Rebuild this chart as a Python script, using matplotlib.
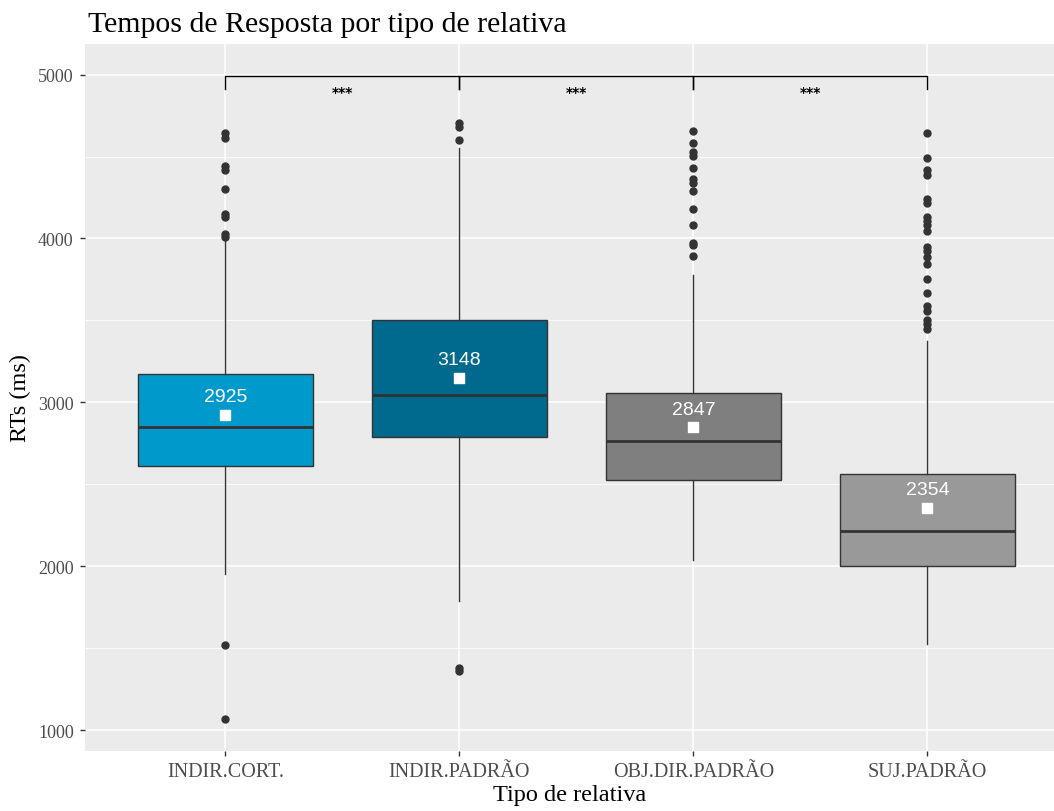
import numpy as np
import matplotlib
matplotlib.use("Agg")
import matplotlib.pyplot as plt
from matplotlib.ticker import MultipleLocator

# resumo dos tempos de resposta por tipo de relativa
tipos = ["INDIR.CORT.", "INDIR.PADRÃO", "OBJ.DIR.PADRÃO", "SUJ.PADRÃO"]
q1 = [2611, 2787, 2528, 2001]
mediana = [2850, 3042, 2762, 2213]
q3 = [3170, 3505, 3054, 2560]
bigode_inf = [1951, 1787, 2039, 1523]
bigode_sup = [3996, 4555, 3777, 3374]
media = [2925, 3148, 2847, 2354]
outliers = [
    [4645, 4612, 4440, 4420, 4301, 4150, 4130, 4030, 4012, 1517, 1065],
    [4705, 4680, 4600, 1380, 1360],
    [4655, 4580, 4530, 4505, 4430, 4365, 4340, 4290, 4180, 4080, 3975, 3960, 3892],
    [4642, 4490, 4415, 4390, 4238, 4215, 4132, 4106, 4080, 4048, 3948, 3922,
     3890, 3846, 3754, 3665, 3590, 3556, 3505, 3480, 3445],
]
cores = ["#0099CC", "#006A8E", "#7F7F7F", "#999999"]

# comparações entre grupos vizinhos
pares = [(1, 2), (2, 3), (3, 4)]
signif = ["***", "***", "***"]
y_chave = 4990
y_ponta = 4915

fig = plt.figure(figsize=(10.54, 8.12), dpi=100)
ax = fig.add_axes([85 / 1054, 1 - 752 / 812, 1 - 85 / 1054, (752 - 45) / 812])
ax.set_facecolor("#EBEBEB")
for s in ax.spines.values():
    s.set_visible(False)

stats = []
for i in range(len(tipos)):
    stats.append(dict(med=mediana[i], q1=q1[i], q3=q3[i],
                      whislo=bigode_inf[i], whishi=bigode_sup[i],
                      fliers=outliers[i], label=tipos[i]))

pos = np.arange(1, len(tipos) + 1)
bp = ax.bxp(stats, positions=pos, widths=0.75, patch_artist=True,
            showcaps=False, zorder=3,
            boxprops=dict(edgecolor="#333333", linewidth=1.0),
            medianprops=dict(color="#333333", linewidth=2.0),
            whiskerprops=dict(color="#333333", linewidth=1.0),
            flierprops=dict(marker="o", markerfacecolor="#333333",
                            markeredgecolor="#333333", markersize=5))
for caixa, cor in zip(bp["boxes"], cores):
    caixa.set_facecolor(cor)

# médias
ax.scatter(pos, media, marker="s", s=55, color="white", zorder=5)
for x, m in zip(pos, media):
    ax.annotate(str(m), (x, m), xytext=(0, 7), textcoords="offset points",
                ha="center", va="bottom", color="white", fontsize=14,
                family="Liberation Sans", zorder=6)

# chaves de significância
for (a, b), txt in zip(pares, signif):
    ax.plot([a, a, b, b], [y_ponta, y_chave, y_chave, y_ponta],
            color="black", linewidth=1.0, zorder=4)
    ax.text((a + b) / 2, y_chave - 55, txt, ha="center", va="top",
            fontsize=10, fontweight="bold", color="black", zorder=4)

ax.set_xlim(0.4, 0.4 + 969 / 234)
ax.set_ylim(872, 5187)
ax.yaxis.set_major_locator(MultipleLocator(1000))
ax.yaxis.set_minor_locator(MultipleLocator(500))
ax.set_xticks(pos)
ax.set_xticklabels(tipos)
ax.grid(which="major", color="white", linewidth=1.1, zorder=0)
ax.grid(which="minor", axis="y", color="white", linewidth=0.55, zorder=0)
ax.set_axisbelow(True)
ax.tick_params(which="major", length=3.6, color="#333333", labelcolor="#4D4D4D",
               width=1, pad=4.5)
ax.tick_params(axis="x", labelsize=14.5)
ax.tick_params(axis="y", labelsize=13)
ax.tick_params(which="minor", length=0)
for lab in ax.get_xticklabels() + ax.get_yticklabels():
    lab.set_family("Liberation Serif")

ax.set_xlabel("Tipo de relativa", family="Liberation Serif", fontsize=17.5,
              labelpad=2)
ax.set_ylabel("RTs (ms)", family="Liberation Serif", fontsize=17.5, labelpad=5)
ax.set_title("Tempos de Resposta por tipo de relativa", family="Liberation Serif",
             fontsize=21.5, loc="left", pad=9.4, x=0.003)

fig.savefig("out.png", dpi=100)
